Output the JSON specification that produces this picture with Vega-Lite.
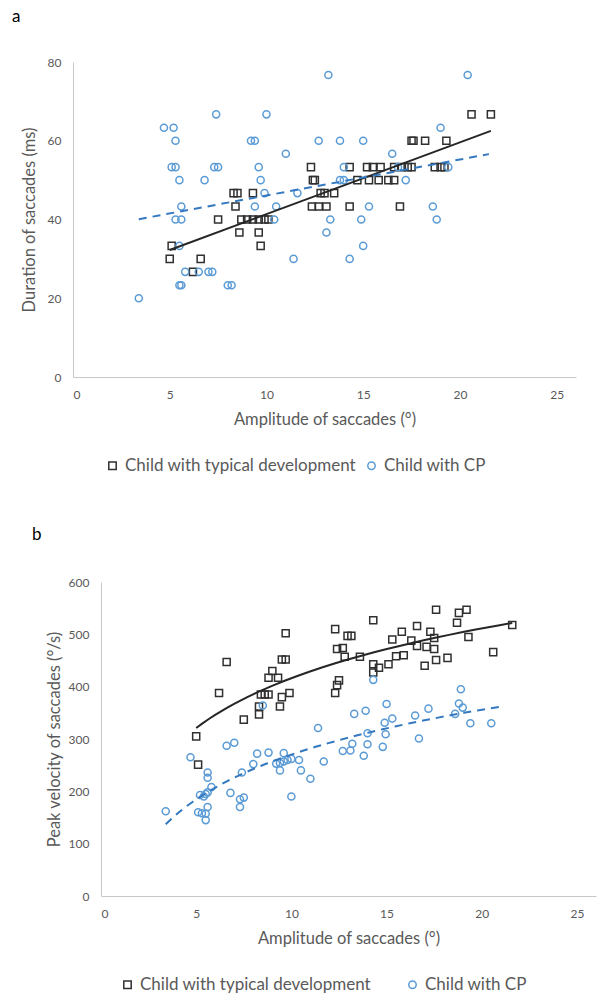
{
  "$schema": "https://vega.github.io/schema/vega-lite/v6.json",
  "padding": {"left": 12, "top": 8, "right": 5, "bottom": 0},
  "background": "white",
  "spacing": 52,
  "config": {
    "font": "Lato",
    "view": {"stroke": null},
    "axis": {"grid": false, "ticks": false, "tickSize": 0, "domainColor": "#C8C8C8", "domainWidth": 1, "labelColor": "#595959", "titleColor": "#595959", "labelFontSize": 12, "titleFontSize": 16.5, "titleFontWeight": "normal", "labelPadding": 12, "labelFont": "Lato", "titleFont": "Lato"},
    "legend": {"labelFont": "Lato"}
  },
  "datasets": {
    "a": [
      {"x": 5.1, "y": 33.3, "g": "TD"}, {"x": 5.0, "y": 30, "g": "TD"}, {"x": 6.6, "y": 30, "g": "TD"}, {"x": 6.2, "y": 26.7, "g": "TD"},
      {"x": 8.6, "y": 36.7, "g": "TD"}, {"x": 9.6, "y": 36.7, "g": "TD"}, {"x": 9.7, "y": 33.3, "g": "TD"}, {"x": 7.5, "y": 40, "g": "TD"},
      {"x": 8.7, "y": 40, "g": "TD"}, {"x": 9.0, "y": 40, "g": "TD"}, {"x": 9.3, "y": 40, "g": "TD"}, {"x": 9.6, "y": 40, "g": "TD"},
      {"x": 9.9, "y": 40, "g": "TD"}, {"x": 10.1, "y": 40, "g": "TD"}, {"x": 8.4, "y": 43.3, "g": "TD"}, {"x": 8.3, "y": 46.7, "g": "TD"},
      {"x": 8.5, "y": 46.7, "g": "TD"}, {"x": 9.3, "y": 46.7, "g": "TD"}, {"x": 12.3, "y": 53.3, "g": "TD"}, {"x": 12.4, "y": 50, "g": "TD"},
      {"x": 12.5, "y": 50, "g": "TD"}, {"x": 12.8, "y": 46.7, "g": "TD"}, {"x": 13.0, "y": 46.7, "g": "TD"}, {"x": 13.5, "y": 46.7, "g": "TD"},
      {"x": 12.35, "y": 43.3, "g": "TD"}, {"x": 12.7, "y": 43.3, "g": "TD"}, {"x": 13.1, "y": 43.3, "g": "TD"}, {"x": 14.3, "y": 43.3, "g": "TD"},
      {"x": 16.9, "y": 43.3, "g": "TD"}, {"x": 14.3, "y": 53.3, "g": "TD"}, {"x": 15.2, "y": 53.3, "g": "TD"}, {"x": 15.5, "y": 53.3, "g": "TD"},
      {"x": 15.9, "y": 53.3, "g": "TD"}, {"x": 16.6, "y": 53.3, "g": "TD"}, {"x": 17.0, "y": 53.3, "g": "TD"}, {"x": 17.3, "y": 53.3, "g": "TD"},
      {"x": 17.5, "y": 53.3, "g": "TD"}, {"x": 18.7, "y": 53.3, "g": "TD"}, {"x": 19.0, "y": 53.3, "g": "TD"}, {"x": 19.2, "y": 53.3, "g": "TD"},
      {"x": 14.7, "y": 50, "g": "TD"}, {"x": 15.3, "y": 50, "g": "TD"}, {"x": 15.8, "y": 50, "g": "TD"}, {"x": 16.3, "y": 50, "g": "TD"},
      {"x": 16.6, "y": 50, "g": "TD"}, {"x": 17.5, "y": 60, "g": "TD"}, {"x": 17.6, "y": 60, "g": "TD"}, {"x": 18.2, "y": 60, "g": "TD"},
      {"x": 19.3, "y": 60, "g": "TD"}, {"x": 20.6, "y": 66.7, "g": "TD"}, {"x": 21.6, "y": 66.7, "g": "TD"},
      {"x": 4.7, "y": 63.3, "g": "CP"}, {"x": 5.2, "y": 63.3, "g": "CP"}, {"x": 5.3, "y": 60, "g": "CP"}, {"x": 5.1, "y": 53.3, "g": "CP"},
      {"x": 5.3, "y": 53.3, "g": "CP"}, {"x": 5.5, "y": 50, "g": "CP"}, {"x": 6.8, "y": 50, "g": "CP"}, {"x": 7.4, "y": 66.7, "g": "CP"},
      {"x": 10.0, "y": 66.7, "g": "CP"}, {"x": 7.3, "y": 53.3, "g": "CP"}, {"x": 7.5, "y": 53.3, "g": "CP"}, {"x": 9.2, "y": 60, "g": "CP"},
      {"x": 9.4, "y": 60, "g": "CP"}, {"x": 11.0, "y": 56.7, "g": "CP"}, {"x": 9.6, "y": 53.3, "g": "CP"}, {"x": 9.7, "y": 50, "g": "CP"},
      {"x": 9.9, "y": 46.7, "g": "CP"}, {"x": 11.6, "y": 46.7, "g": "CP"}, {"x": 5.6, "y": 43.3, "g": "CP"}, {"x": 9.4, "y": 43.3, "g": "CP"},
      {"x": 10.5, "y": 43.3, "g": "CP"}, {"x": 5.3, "y": 40, "g": "CP"}, {"x": 5.6, "y": 40, "g": "CP"}, {"x": 10.4, "y": 40, "g": "CP"},
      {"x": 12.7, "y": 60, "g": "CP"}, {"x": 13.2, "y": 76.7, "g": "CP"}, {"x": 5.5, "y": 33.3, "g": "CP"}, {"x": 3.4, "y": 20, "g": "CP"},
      {"x": 5.5, "y": 23.3, "g": "CP"}, {"x": 5.6, "y": 23.3, "g": "CP"}, {"x": 5.8, "y": 26.7, "g": "CP"}, {"x": 6.5, "y": 26.7, "g": "CP"},
      {"x": 7.0, "y": 26.7, "g": "CP"}, {"x": 7.2, "y": 26.7, "g": "CP"}, {"x": 8.0, "y": 23.3, "g": "CP"}, {"x": 8.2, "y": 23.3, "g": "CP"},
      {"x": 11.4, "y": 30, "g": "CP"}, {"x": 13.1, "y": 36.7, "g": "CP"}, {"x": 14.3, "y": 30, "g": "CP"}, {"x": 15.0, "y": 33.3, "g": "CP"},
      {"x": 20.4, "y": 76.7, "g": "CP"}, {"x": 13.8, "y": 60, "g": "CP"}, {"x": 15.0, "y": 60, "g": "CP"}, {"x": 19.0, "y": 63.3, "g": "CP"},
      {"x": 16.5, "y": 56.7, "g": "CP"}, {"x": 14.0, "y": 53.3, "g": "CP"}, {"x": 16.8, "y": 53.3, "g": "CP"}, {"x": 19.4, "y": 53.3, "g": "CP"},
      {"x": 13.8, "y": 50, "g": "CP"}, {"x": 14.0, "y": 50, "g": "CP"}, {"x": 17.2, "y": 50, "g": "CP"}, {"x": 15.3, "y": 43.3, "g": "CP"},
      {"x": 18.6, "y": 43.3, "g": "CP"}, {"x": 13.3, "y": 40, "g": "CP"}, {"x": 14.9, "y": 40, "g": "CP"}, {"x": 18.8, "y": 40, "g": "CP"}
    ],
    "b": [
      {"x": 9.7, "y": 502, "g": "TD"}, {"x": 6.6, "y": 447, "g": "TD"}, {"x": 9.5, "y": 452, "g": "TD"}, {"x": 9.7, "y": 452, "g": "TD"},
      {"x": 9.0, "y": 430, "g": "TD"}, {"x": 8.8, "y": 417, "g": "TD"}, {"x": 9.3, "y": 417, "g": "TD"}, {"x": 6.2, "y": 388, "g": "TD"},
      {"x": 8.4, "y": 385, "g": "TD"}, {"x": 8.6, "y": 385, "g": "TD"}, {"x": 8.8, "y": 385, "g": "TD"}, {"x": 9.9, "y": 388, "g": "TD"},
      {"x": 9.5, "y": 380, "g": "TD"}, {"x": 8.3, "y": 362, "g": "TD"}, {"x": 9.4, "y": 362, "g": "TD"}, {"x": 7.5, "y": 337, "g": "TD"},
      {"x": 5.0, "y": 305, "g": "TD"}, {"x": 5.1, "y": 251, "g": "TD"}, {"x": 8.3, "y": 347, "g": "TD"}, {"x": 12.3, "y": 510, "g": "TD"},
      {"x": 12.95, "y": 497, "g": "TD"}, {"x": 13.15, "y": 497, "g": "TD"}, {"x": 14.3, "y": 527, "g": "TD"}, {"x": 12.4, "y": 472, "g": "TD"},
      {"x": 12.7, "y": 474, "g": "TD"}, {"x": 12.8, "y": 457, "g": "TD"}, {"x": 13.6, "y": 457, "g": "TD"}, {"x": 12.5, "y": 412, "g": "TD"},
      {"x": 12.4, "y": 403, "g": "TD"}, {"x": 12.3, "y": 388, "g": "TD"}, {"x": 14.3, "y": 443, "g": "TD"}, {"x": 14.3, "y": 427, "g": "TD"},
      {"x": 14.6, "y": 436, "g": "TD"}, {"x": 15.1, "y": 443, "g": "TD"}, {"x": 15.5, "y": 458, "g": "TD"}, {"x": 15.9, "y": 460, "g": "TD"},
      {"x": 15.3, "y": 490, "g": "TD"}, {"x": 15.8, "y": 505, "g": "TD"}, {"x": 16.3, "y": 488, "g": "TD"}, {"x": 16.6, "y": 478, "g": "TD"},
      {"x": 16.6, "y": 516, "g": "TD"}, {"x": 17.1, "y": 476, "g": "TD"}, {"x": 17.3, "y": 505, "g": "TD"}, {"x": 17.5, "y": 493, "g": "TD"},
      {"x": 17.5, "y": 472, "g": "TD"}, {"x": 17.6, "y": 547, "g": "TD"}, {"x": 17.6, "y": 451, "g": "TD"}, {"x": 17.0, "y": 440, "g": "TD"},
      {"x": 18.2, "y": 455, "g": "TD"}, {"x": 18.7, "y": 522, "g": "TD"}, {"x": 18.8, "y": 541, "g": "TD"}, {"x": 19.2, "y": 547, "g": "TD"},
      {"x": 19.3, "y": 495, "g": "TD"}, {"x": 20.6, "y": 466, "g": "TD"}, {"x": 21.6, "y": 518, "g": "TD"},
      {"x": 3.4, "y": 162, "g": "CP"}, {"x": 4.7, "y": 265, "g": "CP"}, {"x": 5.6, "y": 236, "g": "CP"}, {"x": 5.6, "y": 226, "g": "CP"},
      {"x": 5.8, "y": 208, "g": "CP"}, {"x": 5.2, "y": 193, "g": "CP"}, {"x": 5.4, "y": 190, "g": "CP"}, {"x": 5.5, "y": 195, "g": "CP"},
      {"x": 5.6, "y": 198, "g": "CP"}, {"x": 5.6, "y": 170, "g": "CP"}, {"x": 5.1, "y": 160, "g": "CP"}, {"x": 5.3, "y": 158, "g": "CP"},
      {"x": 5.5, "y": 157, "g": "CP"}, {"x": 5.5, "y": 145, "g": "CP"}, {"x": 6.6, "y": 287, "g": "CP"}, {"x": 7.0, "y": 293, "g": "CP"},
      {"x": 6.8, "y": 197, "g": "CP"}, {"x": 7.3, "y": 185, "g": "CP"}, {"x": 7.5, "y": 188, "g": "CP"}, {"x": 7.3, "y": 170, "g": "CP"},
      {"x": 7.4, "y": 236, "g": "CP"}, {"x": 8.0, "y": 252, "g": "CP"}, {"x": 8.2, "y": 272, "g": "CP"}, {"x": 8.5, "y": 364, "g": "CP"},
      {"x": 8.8, "y": 274, "g": "CP"}, {"x": 9.2, "y": 253, "g": "CP"}, {"x": 9.4, "y": 254, "g": "CP"}, {"x": 9.4, "y": 240, "g": "CP"},
      {"x": 9.6, "y": 273, "g": "CP"}, {"x": 9.6, "y": 257, "g": "CP"}, {"x": 9.8, "y": 260, "g": "CP"}, {"x": 10.0, "y": 262, "g": "CP"},
      {"x": 10.0, "y": 190, "g": "CP"}, {"x": 10.4, "y": 260, "g": "CP"}, {"x": 10.5, "y": 240, "g": "CP"}, {"x": 11.0, "y": 224, "g": "CP"},
      {"x": 11.4, "y": 321, "g": "CP"}, {"x": 11.7, "y": 257, "g": "CP"}, {"x": 13.3, "y": 348, "g": "CP"}, {"x": 13.9, "y": 354, "g": "CP"},
      {"x": 15.0, "y": 367, "g": "CP"}, {"x": 14.9, "y": 331, "g": "CP"}, {"x": 15.3, "y": 339, "g": "CP"}, {"x": 14.0, "y": 311, "g": "CP"},
      {"x": 14.95, "y": 309, "g": "CP"}, {"x": 13.2, "y": 291, "g": "CP"}, {"x": 14.0, "y": 290, "g": "CP"}, {"x": 12.7, "y": 277, "g": "CP"},
      {"x": 13.1, "y": 278, "g": "CP"}, {"x": 13.8, "y": 268, "g": "CP"}, {"x": 14.8, "y": 285, "g": "CP"}, {"x": 16.7, "y": 301, "g": "CP"},
      {"x": 16.5, "y": 345, "g": "CP"}, {"x": 17.2, "y": 358, "g": "CP"}, {"x": 18.6, "y": 348, "g": "CP"}, {"x": 18.8, "y": 368, "g": "CP"},
      {"x": 19.0, "y": 360, "g": "CP"}, {"x": 18.9, "y": 395, "g": "CP"}, {"x": 19.4, "y": 330, "g": "CP"}, {"x": 20.5, "y": 330, "g": "CP"},
      {"x": 14.3, "y": 413, "g": "CP"}
    ]
  },
  "resolve": {
    "scale": {"x": "independent", "y": "independent", "color": "independent", "shape": "independent"},
    "legend": {"color": "independent", "shape": "independent"},
    "axis": {"x": "independent", "y": "independent"}
  },
  "vconcat": [
    {
      "width": 503,
      "height": 315,
      "title": {"text": "a", "anchor": "start", "frame": "group", "dx": -61, "offset": 17, "fontSize": 17, "fontWeight": "normal", "color": "#000000", "baseline": "alphabetic", "font": "Lato"},
      "data": {"name": "a"},
      "layer": [
        {
          "mark": {"type": "point", "filled": false, "size": 50, "strokeWidth": 1.5, "opacity": 1},
          "encoding": {
            "x": {"field": "x", "type": "quantitative", "scale": {"domain": [0, 25]}, "axis": {"values": [0, 5, 10, 15, 20, 25], "title": "Amplitude of saccades (°)", "titlePadding": 11}},
            "y": {"field": "y", "type": "quantitative", "scale": {"domain": [0, 80]}, "axis": {"values": [0, 10, 20, 30, 40, 50, 60, 70, 80], "title": "Duration of saccades (ms)", "titlePadding": 10}},
            "color": {"field": "g", "type": "nominal", "scale": {"domain": ["TD", "CP"], "range": ["#303030", "#5B9BD5"]},
              "legend": {"orient": "none", "legendX": 31, "legendY": 395, "direction": "horizontal", "title": null, "labelExpr": "datum.label === 'TD' ? 'Child with typical development' : 'Child with CP'", "labelFontSize": 17, "labelColor": "#595959", "symbolSize": 55, "symbolStrokeWidth": 1.5, "columnPadding": 7, "labelOffset": 4, "labelLimit": 400}},
            "shape": {"field": "g", "type": "nominal", "scale": {"domain": ["TD", "CP"], "range": ["square", "circle"]},
              "legend": {"orient": "none", "legendX": 31, "legendY": 395, "direction": "horizontal", "title": null, "labelExpr": "datum.label === 'TD' ? 'Child with typical development' : 'Child with CP'", "labelFontSize": 17, "labelColor": "#595959", "symbolSize": 55, "symbolStrokeWidth": 1.5, "columnPadding": 7, "labelOffset": 4, "labelLimit": 400}}
          }
        },
        {
          "transform": [{"filter": "datum.g === 'TD'"}, {"regression": "y", "on": "x"}],
          "mark": {"type": "line", "color": "#262626", "strokeWidth": 2},
          "encoding": {"x": {"field": "x", "type": "quantitative"}, "y": {"field": "y", "type": "quantitative"}}
        },
        {
          "transform": [{"filter": "datum.g === 'CP'"}, {"regression": "y", "on": "x", "extent": [3.4, 21.5]}],
          "mark": {"type": "line", "color": "#3479C0", "strokeWidth": 2, "strokeDash": [8, 6]},
          "encoding": {"x": {"field": "x", "type": "quantitative"}, "y": {"field": "y", "type": "quantitative"}}
        }
      ]
    },
    {
      "width": 523,
      "height": 314,
      "title": {"text": "b", "anchor": "start", "frame": "group", "dx": -41, "offset": 19, "fontSize": 17, "fontWeight": "normal", "color": "#000000", "baseline": "alphabetic", "font": "Lato"},
      "data": {"name": "b"},
      "layer": [
        {
          "mark": {"type": "point", "filled": false, "size": 50, "strokeWidth": 1.5, "opacity": 1},
          "encoding": {
            "x": {"field": "x", "type": "quantitative", "scale": {"domain": [0, 25], "range": [28, 523]}, "axis": {"values": [0, 5, 10, 15, 20, 25], "title": "Amplitude of saccades (°)", "titlePadding": 11}},
            "y": {"field": "y", "type": "quantitative", "scale": {"domain": [0, 600]}, "axis": {"values": [0, 100, 200, 300, 400, 500, 600], "title": "Peak velocity of saccades (°/s)", "titlePadding": 6, "offset": -28}},
            "color": {"field": "g", "type": "nominal", "scale": {"domain": ["TD", "CP"], "range": ["#303030", "#5B9BD5"]},
              "legend": {"orient": "none", "legendX": 46, "legendY": 394, "direction": "horizontal", "title": null, "labelExpr": "datum.label === 'TD' ? 'Child with typical development' : 'Child with CP'", "labelFontSize": 17, "labelColor": "#595959", "symbolSize": 55, "symbolStrokeWidth": 1.5, "columnPadding": 33, "labelOffset": 4, "labelLimit": 400}},
            "shape": {"field": "g", "type": "nominal", "scale": {"domain": ["TD", "CP"], "range": ["square", "circle"]},
              "legend": {"orient": "none", "legendX": 46, "legendY": 394, "direction": "horizontal", "title": null, "labelExpr": "datum.label === 'TD' ? 'Child with typical development' : 'Child with CP'", "labelFontSize": 17, "labelColor": "#595959", "symbolSize": 55, "symbolStrokeWidth": 1.5, "columnPadding": 33, "labelOffset": 4, "labelLimit": 400}}
          }
        },
        {
          "transform": [{"filter": "datum.g === 'TD'"}, {"regression": "y", "on": "x", "method": "log"}],
          "mark": {"type": "line", "color": "#262626", "strokeWidth": 2},
          "encoding": {"x": {"field": "x", "type": "quantitative"}, "y": {"field": "y", "type": "quantitative"}}
        },
        {
          "transform": [{"filter": "datum.g === 'CP'"}, {"regression": "y", "on": "x", "method": "log", "extent": [3.4, 21.2]}],
          "mark": {"type": "line", "color": "#3479C0", "strokeWidth": 2, "strokeDash": [8, 6]},
          "encoding": {"x": {"field": "x", "type": "quantitative"}, "y": {"field": "y", "type": "quantitative"}}
        }
      ]
    }
  ]
}
